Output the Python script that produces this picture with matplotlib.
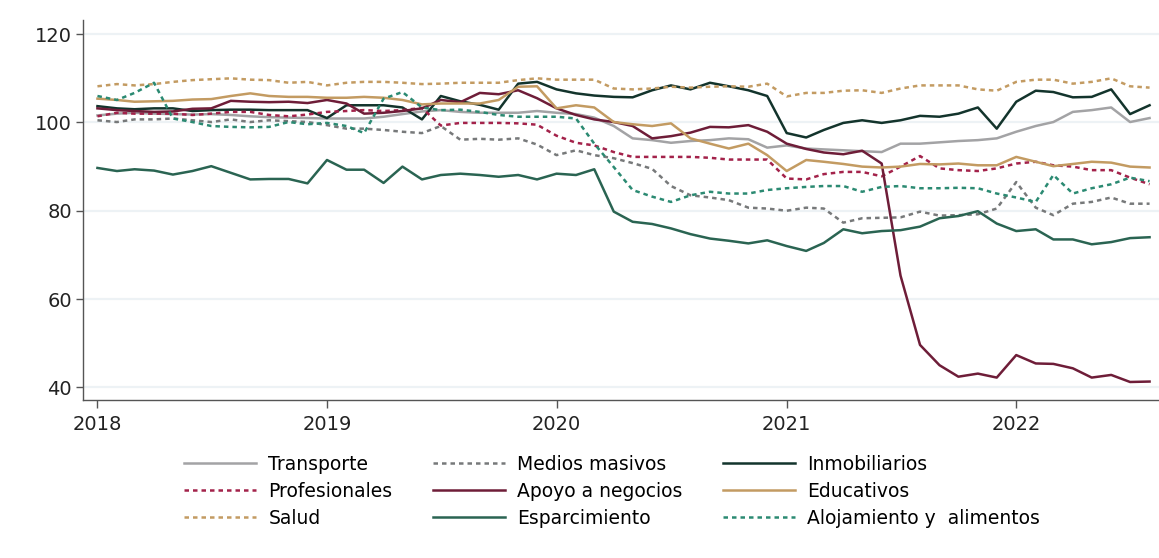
import matplotlib
matplotlib.use("Agg")
import matplotlib.pyplot as plt
import matplotlib.dates as mdates
import pandas as pd

plt.rcParams['font.family'] = ['DejaVu Sans']

# monthly index values, Jan 2018 - Aug 2022
months = pd.date_range("2018-01-01", periods=56, freq="MS")

transporte = [101.6, 102.0, 102.2, 102.0, 101.9, 101.8, 101.9, 101.7, 101.4, 101.2, 101.1, 101.0,
              100.9, 100.9, 100.9, 101.3, 101.9, 102.5, 102.8, 102.4, 102.2, 102.2, 102.2, 102.6,
              102.2, 101.9, 101.1, 99.2, 96.4, 96.0, 95.4, 95.8, 96.0, 96.4, 96.2, 94.3,
              94.8, 94.1, 93.9, 93.7, 93.5, 93.3, 95.2, 95.2, 95.5, 95.8, 96.0, 96.4,
              97.9, 99.2, 100.1, 102.4, 102.8, 103.4, 100.1, 101.0]

medios = [100.5, 100.1, 100.7, 100.7, 100.9, 100.5, 100.1, 100.7, 100.1, 100.5, 100.3, 100.1,
          99.4, 98.6, 98.6, 98.3, 97.9, 97.6, 99.2, 96.1, 96.3, 96.1, 96.4, 95.0,
          92.6, 93.7, 92.6, 91.9, 90.8, 89.5, 85.6, 83.5, 83.0, 82.4, 80.7, 80.5,
          80.0, 80.7, 80.5, 77.3, 78.3, 78.4, 78.5, 79.8, 78.9, 79.0, 79.2, 80.5,
          86.5, 80.7, 79.0, 81.6, 82.0, 83.0, 81.6, 81.6]

inmobiliarios = [103.7, 103.2, 103.0, 103.2, 103.2, 102.6, 102.8, 102.9, 102.9, 102.8, 102.8, 102.8,
                 101.0, 103.9, 103.9, 103.9, 103.4, 100.7, 106.0, 104.8, 104.0, 102.9, 108.8, 109.2,
                 107.5, 106.6, 106.1, 105.8, 105.7, 107.3, 108.4, 107.5, 109.0, 108.2, 107.3, 106.0,
                 97.6, 96.6, 98.3, 99.9, 100.5, 99.9, 100.5, 101.5, 101.3, 102.0, 103.4, 98.6,
                 104.7, 107.2, 106.9, 105.7, 105.8, 107.5, 101.9, 103.9]

profesionales = [101.4, 102.2, 102.0, 102.0, 102.0, 101.7, 102.0, 102.4, 102.4, 101.7, 101.4, 101.8,
                 102.4, 102.6, 102.8, 102.6, 102.8, 103.3, 99.3, 99.9, 99.9, 99.9, 99.8, 99.5,
                 97.0, 95.4, 94.8, 93.3, 92.2, 92.2, 92.2, 92.2, 92.0, 91.6, 91.6, 91.6,
                 87.3, 87.1, 88.3, 88.8, 88.8, 87.8, 90.0, 92.4, 89.6, 89.2, 89.0, 89.6,
                 90.7, 91.1, 90.3, 90.0, 89.2, 89.2, 87.5, 86.0]

apoyo = [103.2, 102.8, 102.6, 102.4, 102.5, 103.1, 103.2, 104.9, 104.7, 104.6, 104.7, 104.4,
         105.1, 104.3, 102.0, 102.2, 102.6, 103.2, 105.1, 104.6, 106.7, 106.4, 107.3, 105.5,
         103.2, 101.7, 100.7, 100.1, 99.2, 96.4, 96.9, 97.7, 99.0, 98.9, 99.4, 97.9,
         95.2, 94.0, 93.2, 92.8, 93.6, 90.7, 65.3, 49.6, 45.0, 42.4, 43.1, 42.2,
         47.3, 45.4, 45.3, 44.3, 42.2, 42.8, 41.2, 41.3]

educativos = [105.4, 105.1, 104.7, 104.8, 104.9, 105.2, 105.3, 106.0, 106.6, 106.0, 105.8, 105.8,
              105.6, 105.6, 105.8, 105.6, 105.1, 104.1, 104.3, 104.3, 104.3, 105.1, 108.1, 108.2,
              103.2, 103.9, 103.4, 100.1, 99.6, 99.2, 99.8, 96.4, 95.2, 94.1, 95.2, 92.6,
              89.0, 91.5, 91.1, 90.6, 90.0, 89.8, 90.0, 90.6, 90.5, 90.7, 90.3, 90.3,
              92.2, 91.1, 90.1, 90.6, 91.1, 90.9, 90.0, 89.8]

salud = [108.2, 108.7, 108.4, 108.7, 109.2, 109.6, 109.8, 110.0, 109.7, 109.6, 109.0, 109.2,
         108.4, 109.0, 109.2, 109.2, 109.0, 108.7, 108.8, 109.0, 109.0, 109.0, 109.6, 110.0,
         109.7, 109.7, 109.7, 107.7, 107.5, 107.7, 108.1, 107.9, 108.1, 108.2, 108.1, 108.8,
         105.9, 106.7, 106.7, 107.2, 107.3, 106.7, 107.7, 108.4, 108.4, 108.4, 107.5, 107.2,
         109.2, 109.7, 109.7, 108.8, 109.2, 110.0, 108.2, 107.9]

esparcimiento = [89.7, 89.0, 89.4, 89.1, 88.2, 89.0, 90.1, 88.6, 87.1, 87.2, 87.2, 86.2,
                 91.5, 89.3, 89.3, 86.3, 90.0, 87.1, 88.1, 88.4, 88.1, 87.7, 88.1, 87.1,
                 88.4, 88.1, 89.4, 79.8, 77.5, 77.0, 76.0, 74.7, 73.7, 73.2, 72.6, 73.3,
                 72.0, 70.9, 72.7, 75.8, 74.9, 75.4, 75.6, 76.4, 78.3, 78.8, 79.9, 77.1,
                 75.4, 75.8, 73.5, 73.5, 72.4, 72.9, 73.8, 74.0]

alojamiento = [106.0, 105.1, 106.7, 109.0, 100.9, 100.1, 99.2, 99.0, 98.9, 99.0, 100.1, 99.6,
               99.9, 99.2, 97.6, 105.4, 106.9, 103.4, 102.8, 102.9, 102.4, 101.7, 101.3, 101.3,
               101.3, 100.9, 95.2, 89.9, 84.7, 83.2, 82.0, 83.5, 84.3, 83.9, 83.9, 84.7,
               85.1, 85.4, 85.6, 85.6, 84.3, 85.4, 85.6, 85.1, 85.1, 85.2, 85.1, 83.9,
               83.0, 82.0, 88.1, 83.9, 85.1, 86.0, 87.5, 86.7]

dotted = (0, (1.8, 1.6))

# (label, values, colour, linestyle) in the legend's row order
series = [
    ("Transporte", transporte, "#a3a3a5", "-"),
    ("Medios masivos", medios, "#77797a", dotted),
    ("Inmobiliarios", inmobiliarios, "#13342c", "-"),
    ("Profesionales", profesionales, "#a3224a", dotted),
    ("Apoyo a negocios", apoyo, "#6e1d38", "-"),
    ("Educativos", educativos, "#c39b62", "-"),
    ("Salud", salud, "#c39b62", dotted),
    ("Esparcimiento", esparcimiento, "#2a6452", "-"),
    ("Alojamiento y  alimentos", alojamiento, "#2b8a72", dotted),
]

fig = plt.figure(figsize=(11.59, 5.58), dpi=100)
ax = fig.add_axes([0.0716, 0.283, 0.9284, 0.681])

handles = {}
for label, values, color, ls in series:
    line, = ax.plot(months, values, color=color, linestyle=ls, linewidth=1.8, label=label)
    handles[label] = line

ax.set_ylim(37.1, 123.2)
ax.set_xlim(pd.Timestamp("2017-12-09"), pd.Timestamp("2022-08-16"))
ax.set_yticks([40, 60, 80, 100, 120])
ax.xaxis.set_major_locator(mdates.YearLocator())
ax.xaxis.set_major_formatter(mdates.DateFormatter("%Y"))

ax.grid(axis="y", color="#edf2f5", linewidth=1.6)
ax.set_axisbelow(True)
for side in ("top", "right"):
    ax.spines[side].set_visible(False)
for side in ("left", "bottom"):
    ax.spines[side].set_color("#555555")
    ax.spines[side].set_linewidth(1.0)
ax.tick_params(axis="y", length=5, width=1, color="#555555", labelsize=14, labelcolor="#222222", pad=3)
ax.tick_params(axis="x", length=6, width=1, color="#555555", labelsize=14, labelcolor="#222222", pad=5)

# legend fills by column, so reorder to get the row layout
names = [s[0] for s in series]
order = [names[i] for i in (0, 3, 6, 1, 4, 7, 2, 5, 8)]
fig.legend([handles[n] for n in order], order, ncol=3, loc="upper center",
           bbox_to_anchor=(0.528, 0.215), frameon=False, fontsize=13.5,
           handlelength=3.85, handletextpad=0.65, columnspacing=2.15, labelspacing=0.42)

fig.savefig("out.png", dpi=100)
